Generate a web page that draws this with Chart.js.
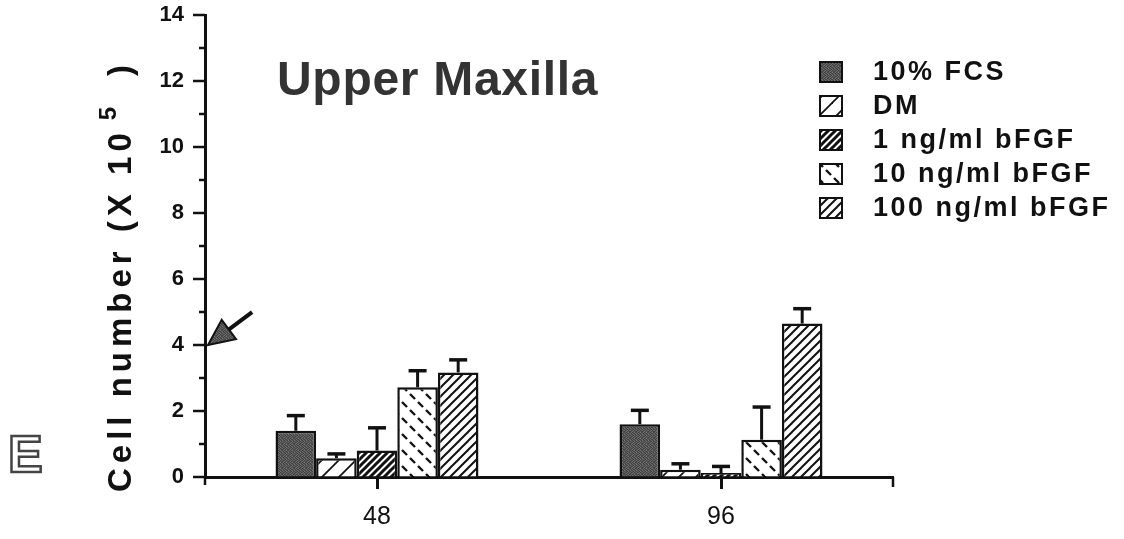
<!DOCTYPE html>
<html>
<head>
<meta charset="utf-8">
<script src="https://cdn.jsdelivr.net/npm/chart.js@4.4.0/dist/chart.umd.min.js"></script>
<style>
  html, body { margin: 0; padding: 0; background: #fff; }
  #wrap { width: 1124px; height: 539px; }
</style>
</head>
<body>
<div id="wrap"><canvas id="chart" width="1124" height="539"></canvas></div>
<script>
// Upper Maxilla: cell number (x 10^5) at 48 and 96 h
const hours = ["48", "96"];
const seriesNames = ["10% FCS", "DM", "1 ng/ml bFGF", "10 ng/ml bFGF", "100 ng/ml bFGF"];

const fcs = [1.4, 1.6];
const dm = [0.57, 0.22];
const bfgf1 = [0.8, 0.12];
const bfgf10 = [2.72, 1.13];
const bfgf100 = [3.17, 4.65];

const fcsErr = [0.46, 0.42];
const dmErr = [0.13, 0.18];
const bfgf1Err = [0.69, 0.2];
const bfgf10Err = [0.5, 0.99];
const bfgf100Err = [0.38, 0.45];

const yTicks = [0, 2, 4, 6, 8, 10, 12, 14];
const arrowAt = 4; // arrow on the y axis

const INK = "#111";
const FONT = "'Liberation Sans', Arial, sans-serif";

// --- fill patterns -------------------------------------------------------
function tile(size, draw) {
  const c = document.createElement("canvas");
  c.width = size; c.height = size;
  const g = c.getContext("2d");
  g.fillStyle = "#fff";
  g.fillRect(0, 0, size, size);
  draw(g, size);
  return document.createElement("canvas").getContext("2d").createPattern(c, "repeat");
}

function hatch(size, width, bg) {
  return tile(size, (g, s) => {
    if (bg) { g.fillStyle = bg; g.fillRect(0, 0, s, s); }
    g.strokeStyle = INK;
    g.lineWidth = width;
    g.lineCap = "square";
    for (const o of [-s, 0, s]) {
      g.beginPath();
      g.moveTo(o, s);
      g.lineTo(o + s, 0);
      g.stroke();
    }
  });
}

const stipple = tile(6, (g) => {
  const shades = [
    "#4a4a4a", "#6b6b6b", "#3a3a3a", "#555", "#7a7a7a", "#444",
    "#5e5e5e", "#3c3c3c", "#707070", "#484848", "#3f3f3f", "#666",
    "#777", "#505050", "#404040", "#6a6a6a", "#585858", "#3b3b3b",
    "#454545", "#626262", "#5a5a5a", "#383838", "#747474", "#4f4f4f",
    "#686868", "#424242", "#4c4c4c", "#6e6e6e", "#3d3d3d", "#5c5c5c",
    "#3e3e3e", "#575757", "#727272", "#464646", "#606060", "#4b4b4b",
  ];
  shades.forEach((c, i) => { g.fillStyle = c; g.fillRect(i % 6, Math.floor(i / 6), 1, 1); });
});

const dashes = tile(16, (g) => {
  g.strokeStyle = INK;
  g.lineWidth = 2.4;
  g.beginPath();
  g.moveTo(2, 2); g.lineTo(7, 7);
  g.moveTo(10, 10); g.lineTo(15, 15);
  g.stroke();
});

const fills = [stipple, hatch(17, 1.8), hatch(7, 3), dashes, hatch(9, 2)];
const values = [fcs, dm, bfgf1, bfgf10, bfgf100];
const errors = [fcsErr, dmErr, bfgf1Err, bfgf10Err, bfgf100Err];

// --- extra drawing: error bars, minor ticks, titles, legend, arrow ---------
const decorations = {
  id: "decorations",
  afterDatasetsDraw(chart) {
    const { ctx, scales: { x, y } } = chart;
    ctx.save();
    ctx.strokeStyle = INK;
    ctx.lineCap = "butt";

    // error bars (upper half only)
    values.forEach((vals, i) => {
      chart.getDatasetMeta(i).data.forEach((bar, j) => {
        const top = y.getPixelForValue(vals[j] + errors[i][j]);
        ctx.lineWidth = 3;
        ctx.beginPath();
        ctx.moveTo(bar.x, bar.y);
        ctx.lineTo(bar.x, top);
        ctx.stroke();
        ctx.lineWidth = 3.5;
        ctx.beginPath();
        ctx.moveTo(bar.x - 9, top);
        ctx.lineTo(bar.x + 9, top);
        ctx.stroke();
      });
    });

    // y ticks: long at labelled values, short in between
    ctx.lineWidth = 2.5;
    yTicks.forEach((v, k) => {
      const py = y.getPixelForValue(v);
      ctx.beginPath();
      ctx.moveTo(x.left - 12, py);
      ctx.lineTo(x.left, py);
      ctx.stroke();
      if (k < yTicks.length - 1) {
        const my = y.getPixelForValue((v + yTicks[k + 1]) / 2);
        ctx.beginPath();
        ctx.moveTo(x.left - 6, my);
        ctx.lineTo(x.left, my);
        ctx.stroke();
      }
    });
    // axis stub below zero and end tick of the x axis
    ctx.beginPath();
    ctx.moveTo(x.left, y.bottom);
    ctx.lineTo(x.left, y.bottom + 8);
    ctx.moveTo(x.right, y.bottom);
    ctx.lineTo(x.right, y.bottom + 10);
    ctx.stroke();

    // arrow pointing at the axis
    const tipX = x.left + 3, tipY = y.getPixelForValue(arrowAt);
    const ang = Math.atan2(-32, 43);
    const ux = Math.cos(ang), uy = Math.sin(ang);
    const baseX = tipX + ux * 26, baseY = tipY + uy * 26;
    ctx.lineWidth = 4;
    ctx.beginPath();
    ctx.moveTo(baseX - ux * 4, baseY - uy * 4);
    ctx.lineTo(tipX + ux * 55, tipY + uy * 55);
    ctx.stroke();
    ctx.beginPath();
    ctx.moveTo(tipX, tipY);
    ctx.lineTo(baseX - uy * 12, baseY + ux * 12);
    ctx.lineTo(baseX + uy * 12, baseY - ux * 12);
    ctx.closePath();
    ctx.fillStyle = stipple;
    ctx.fill();
    ctx.lineWidth = 2;
    ctx.stroke();

    // plot title
    ctx.fillStyle = "#333";
    ctx.font = `bold 48px ${FONT}`;
    ctx.letterSpacing = "0.7px";
    ctx.textBaseline = "alphabetic";
    ctx.textAlign = "left";
    ctx.fillText("Upper Maxilla", 277, 95);

    // legend
    ctx.font = `bold 27px ${FONT}`;
    ctx.letterSpacing = "2.5px";
    ctx.textBaseline = "middle";
    seriesNames.forEach((name, i) => {
      const cy = 72 + i * 34;
      ctx.fillStyle = fills[i];
      ctx.fillRect(820, cy - 10, 22, 20);
      ctx.lineWidth = 2;
      ctx.strokeStyle = INK;
      ctx.strokeRect(820, cy - 10, 22, 20);
      ctx.fillStyle = INK;
      ctx.fillText(name, 873, cy + 1);
    });

    // rotated y-axis title with superscript
    ctx.translate(122, 492);
    ctx.rotate(-Math.PI / 2);
    ctx.textBaseline = "middle";
    ctx.fillStyle = INK;
    ctx.font = `bold 33px ${FONT}`;
    ctx.letterSpacing = "5px";
    const main = "Cell number (X 10";
    ctx.fillText(main, 0, 0);
    let adv = ctx.measureText(main).width + 8;
    ctx.font = `bold 24px ${FONT}`;
    ctx.fillText("5", adv, -13);
    adv += ctx.measureText("5").width + 26;
    ctx.font = `bold 33px ${FONT}`;
    ctx.fillText(")", adv, 0);
    ctx.restore();

    // panel letter
    ctx.save();
    ctx.font = `bold 52px ${FONT}`;
    ctx.textBaseline = "alphabetic";
    ctx.fillStyle = "#fff";
    ctx.strokeStyle = "#444";
    ctx.lineWidth = 2.5;
    ctx.fillText("E", 8, 472);
    ctx.strokeText("E", 8, 472);
    ctx.restore();
  },
};

new Chart(document.getElementById("chart"), {
  type: "bar",
  data: {
    labels: hours,
    datasets: seriesNames.map((name, i) => ({
      label: name,
      data: values[i],
      backgroundColor: fills[i],
      borderColor: INK,
      borderWidth: 2.5,
      categoryPercentage: 0.59,
      barPercentage: 1.0,
    })),
  },
  options: {
    responsive: false,
    animation: false,
    layout: { padding: { left: 0, right: 231, top: 15, bottom: 0 } },
    plugins: {
      legend: { display: false },
      title: { display: false },
      tooltip: { enabled: false },
    },
    scales: {
      x: {
        offset: true,
        grid: { offset: false, drawOnChartArea: false, drawTicks: true, tickLength: 12, tickWidth: 3, tickColor: INK },
        border: { color: INK, width: 3 },
        ticks: { color: INK, font: { family: FONT, size: 25 }, padding: 13 },
        afterFit(s) { s.height = 62; },
      },
      y: {
        min: 0,
        max: 14,
        afterBuildTicks(s) { s.ticks = yTicks.map((v) => ({ value: v })); },
        grid: { drawOnChartArea: false, drawTicks: false },
        border: { color: INK, width: 3 },
        ticks: { color: INK, font: { family: FONT, size: 22, weight: "bold" }, padding: 21 },
        afterFit(s) { s.width = 205; s.paddingTop = 0; s.paddingBottom = 0; },
      },
    },
  },
  plugins: [decorations],
});
</script>
</body>
</html>
